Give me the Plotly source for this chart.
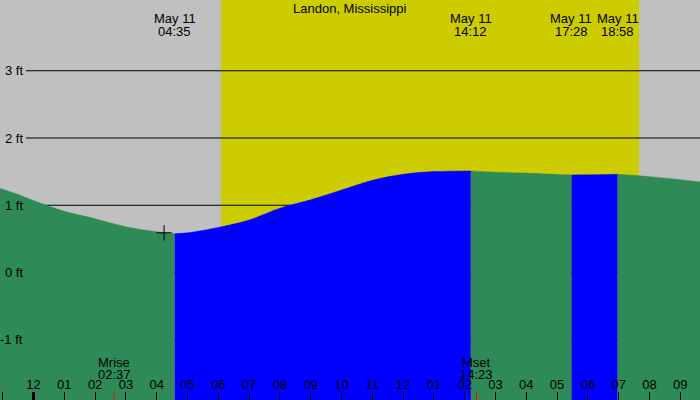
import plotly.graph_objects as go

# tide curve (hours since midnight May 11, feet)
hours = [-1.09, -0.5, 0, 1, 2, 3, 4, 4.583, 5, 6, 7, 8, 9, 10, 11, 12, 13,
         14.2, 15, 16, 17, 17.467, 18, 18.967, 20, 21, 21.64]
heights = [1.25, 1.16, 1.07, 0.91, 0.80, 0.68, 0.605, 0.577, 0.59, 0.67, 0.78,
           0.955, 1.08, 1.225, 1.37, 1.46, 1.50, 1.51, 1.49, 1.478, 1.457,
           1.45, 1.452, 1.46, 1.425, 1.38, 1.345]

# high / low tide events
event_dates = ["May 11", "May 11", "May 11", "May 11"]
event_times = ["04:35", "14:12", "17:28", "18:58"]

# moon rise / set
moon_labels = ["Mrise", "Mset"]
moon_times = ["02:37", "14:23"]

# daylight (sunrise, sunset)
sunrise = 6.09
sunset = 19.66

# current time marker
now_hour = 4.24
now_height = 0.59

tick_hours = list(range(-1, 22))
tick_text = ["11", "12", "01", "02", "03", "04", "05", "06", "07", "08", "09", "10",
             "11", "12", "01", "02", "03", "04", "05", "06", "07", "08", "09"]
y_ticks = [-1, 0, 1, 2, 3]

title = "Landon, Mississippi"

x_range = [-1.088, 21.64]
y_range = [-1.896, 4.052]
FONT = "Liberation Sans"
FS = 13


def to_hours(s):
    h, m = s.split(":")
    return int(h) + int(m) / 60


event_hours = [to_hours(t) for t in event_times]
moon_hours = [to_hours(t) for t in moon_times]

fig = go.Figure()

# alternate falling (green) / rising (blue) segments between tide events
bounds = [hours[0]] + event_hours + [hours[-1]]
colors = ["#2e8b57", "#0000ff"]
for i in range(len(bounds) - 1):
    a, b = bounds[i], bounds[i + 1]
    xs = [h for h in hours if a - 0.01 <= h <= b + 0.01]
    ys = [heights[hours.index(h)] for h in xs]
    col = colors[i % 2]
    fig.add_trace(go.Scatter(x=[xs[0], xs[-1]], y=[y_range[0], y_range[0]],
                             mode="lines", line=dict(width=0), hoverinfo="skip",
                             showlegend=False))
    fig.add_trace(go.Scatter(x=xs, y=ys, mode="lines", fill="tonexty",
                             fillcolor=col, line=dict(color=col, width=0.5, shape="spline"),
                             showlegend=False))

fig.add_trace(go.Scatter(x=[now_hour], y=[now_height], mode="markers",
                         marker=dict(symbol="cross-thin", size=11,
                                     line=dict(color="black", width=1)),
                         showlegend=False))

shapes = [dict(type="rect", xref="x", yref="paper", x0=sunrise, x1=sunset, y0=0, y1=1,
               fillcolor="#cccc00", line=dict(width=0), layer="below")]
for v in y_ticks:
    shapes.append(dict(type="line", xref="paper", yref="y", x0=26 / 700, x1=1, y0=v, y1=v,
                       line=dict(color="black", width=1), layer="below"))
shapes.append(dict(type="line", xref="x", yref="paper", x0=0, x1=0, y0=0, y1=8 / 400,
                   line=dict(color="black", width=3)))
for h in moon_hours:
    shapes.append(dict(type="line", xref="x", yref="paper", x0=h, x1=h, y0=0, y1=8 / 400,
                       line=dict(color="red", width=1)))

annotations = [dict(text=title, xref="paper", yref="paper", x=0.5, y=1 - 8 / 400,
                    showarrow=False, yanchor="middle")]
for h, d, t in zip(event_hours, event_dates, event_times):
    annotations.append(dict(text=d, x=h, xref="x", yref="paper", y=1 - 19 / 400,
                            showarrow=False, yanchor="middle"))
    annotations.append(dict(text=t, x=h, xref="x", yref="paper", y=1 - 32 / 400,
                            showarrow=False, yanchor="middle"))
for h, lab, t in zip(moon_hours, moon_labels, moon_times):
    annotations.append(dict(text=lab, x=h, xref="x", yref="paper", y=1 - 362 / 400,
                            showarrow=False, yanchor="middle"))
    annotations.append(dict(text=t, x=h, xref="x", yref="paper", y=1 - 374 / 400,
                            showarrow=False, yanchor="middle"))
for v in y_ticks:
    annotations.append(dict(text=f"{v} ft", xref="paper", x=25 / 700, xanchor="right",
                            y=v, yref="y", showarrow=False, yanchor="middle"))

fig.update_layout(
    width=700, height=400,
    margin=dict(l=0, r=0, t=0, b=0),
    paper_bgcolor="#c0c0c0", plot_bgcolor="#c0c0c0",
    font=dict(family=FONT, size=FS, color="black"),
    shapes=shapes, annotations=annotations,
    xaxis=dict(range=x_range, tickvals=tick_hours, ticktext=tick_text,
               ticks="inside", ticklen=8, tickcolor="black", tickwidth=1,
               ticklabelposition="inside", showgrid=False, zeroline=False,
               showline=False, tickfont=dict(size=FS, color="black")),
    yaxis=dict(range=y_range, showgrid=False, zeroline=False, showticklabels=False,
               showline=False),
)

fig.write_html("out.html", config={"displayModeBar": False},
               post_script="document.body.style.margin='0';")
